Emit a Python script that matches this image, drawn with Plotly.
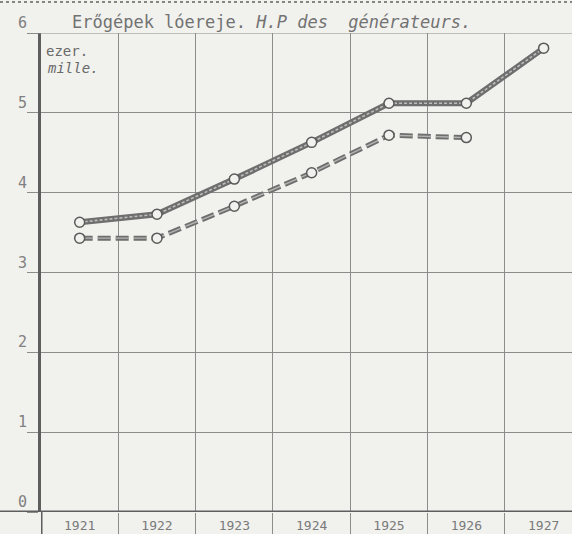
import plotly.graph_objects as go

# ---- data ----
years = [1921, 1922, 1923, 1924, 1925, 1926, 1927]
year_labels = ["1921", "1922", "1923", "1924", "1925", "1926", "1927"]
hp_solid = [3.63, 3.73, 4.17, 4.63, 5.12, 5.12, 5.81]
years_dashed = [1921, 1922, 1923, 1924, 1925, 1926]
hp_dashed = [3.43, 3.43, 3.83, 4.25, 4.72, 4.69]
y_ticks = [0, 1, 2, 3, 4, 5, 6]
y_tick_labels = ["0", "1", "2", "3", "4", "5", "6"]
column_edges = [1921.5, 1922.5, 1923.5, 1924.5, 1925.5, 1926.5]

title_text = "Erőgépek lóereje. <i>H.P des\u00a0 générateurs.</i>"
unit_hu = "ezer."
unit_fr = "<i>mille.</i>"

# ---- styling ----
W, H = 572, 534
ML, MR, MT, MB = 41, 0, 33, 22
PW, PH = W - ML - MR, H - MT - MB
BG = "#f1f1ee"
GRID = "#8c8c8c"
AXIS = "#5e5e5e"
INK = "#6e6e6e"
FONT = "DejaVu Sans Mono"


def px_x(px):
    return (px - ML) / PW


def px_y(py):
    return (H - MB - py) / PH


fig = go.Figure()

# solid series (textured thick line)
fig.add_trace(go.Scatter(x=years, y=hp_solid, mode="lines",
                         line=dict(color=INK, width=6), hoverinfo="skip"))
fig.add_trace(go.Scatter(x=years, y=hp_solid, mode="lines",
                         line=dict(color="#bdbdbb", width=1.6, dash="3px,2px"),
                         hoverinfo="skip"))
# dashed series
fig.add_trace(go.Scatter(x=years_dashed, y=hp_dashed, mode="lines",
                         line=dict(color=INK, width=5, dash="13px,5px"),
                         hoverinfo="skip"))
fig.add_trace(go.Scatter(x=years_dashed, y=hp_dashed, mode="lines",
                         line=dict(color="#b4b4b2", width=1.4, dash="13px,5px"),
                         hoverinfo="skip"))
# markers
marker_style = dict(symbol="circle", size=10, color=BG,
                    line=dict(color="#5a5a5a", width=1.5))
fig.add_trace(go.Scatter(x=years, y=hp_solid, mode="markers", marker=marker_style,
                         hoverinfo="skip"))
fig.add_trace(go.Scatter(x=years_dashed, y=hp_dashed, mode="markers", marker=marker_style,
                         hoverinfo="skip"))

fig.update_layout(
    width=W, height=H,
    margin=dict(l=ML, r=MR, t=MT, b=MB, pad=0, autoexpand=False),
    paper_bgcolor=BG, plot_bgcolor=BG,
    showlegend=False,
    font=dict(family=FONT, color="#7a7a7a"),
)

x_end = 1920.5 + PW / 77.33
fig.update_xaxes(
    range=[1920.5, x_end], automargin=False,
    tickmode="array", tickvals=years, ticktext=year_labels,
    tickfont=dict(family=FONT, size=13, color="#7a7a7a"),
    ticks="", showgrid=False, showline=False, zeroline=False,
    ticklabelstandoff=4,
    minor=dict(tickmode="array", tickvals=column_edges, ticks="outside",
               ticklen=MB, tickwidth=1, tickcolor=GRID,
               showgrid=True, gridcolor=GRID, gridwidth=1),
)
fig.update_yaxes(
    range=[0, 6], automargin=False,
    tickmode="array", tickvals=y_ticks,
    showticklabels=False,
    ticks="outside", ticklen=11, tickwidth=1, tickcolor=GRID,
    showgrid=True, gridcolor=GRID, gridwidth=1,
    showline=True, linewidth=3, linecolor=AXIS,
    zeroline=False,
)

shapes = [
    # thick base line across full width
    dict(type="line", xref="paper", yref="y", x0=px_x(0), x1=1, y0=0, y1=0,
         line=dict(color=AXIS, width=3)),
    # left axis continued through the label row
    dict(type="line", xref="x", yref="paper", x0=1920.5, x1=1920.5,
         y0=px_y(H), y1=0, line=dict(color=AXIS, width=3)),
    # top line (value 6)
    dict(type="line", xref="paper", yref="y", x0=px_x(30), x1=1, y0=6, y1=6,
         line=dict(color=GRID, width=1)),
    # scan border at very top
    dict(type="line", xref="paper", yref="paper", x0=px_x(0), x1=1,
         y0=px_y(2), y1=px_y(2), line=dict(color="#858585", width=2, dash="dot")),
]
fig.update_layout(shapes=shapes)

annotations = [
    dict(text=title_text, xref="paper", yref="paper", x=px_x(70), y=px_y(22),
         xanchor="left", yanchor="middle", showarrow=False,
         font=dict(family=FONT, size=17, color="#727272")),
    dict(text=unit_hu, xref="paper", yref="paper", x=px_x(44), y=px_y(51),
         xanchor="left", yanchor="middle", showarrow=False,
         font=dict(family=FONT, size=14, color="#6a6a6a")),
    dict(text=unit_fr, xref="paper", yref="paper", x=px_x(45), y=px_y(68),
         xanchor="left", yanchor="middle", showarrow=False,
         font=dict(family=FONT, size=14, color="#6a6a6a")),
]
# y value labels sitting just above their grid lines, left of the axis
for v, lab in zip(y_ticks, y_tick_labels):
    annotations.append(dict(text=lab, xref="paper", yref="y", x=px_x(29), y=v,
                            xanchor="right", yanchor="bottom", yshift=-1,
                            showarrow=False,
                            font=dict(family=FONT, size=15, color="#808080")))
fig.update_layout(annotations=annotations)

fig.write_html("out.html",
               config={"displayModeBar": False},
               post_script="document.body.style.margin='0';"
                           "document.body.style.background='" + BG + "';")
